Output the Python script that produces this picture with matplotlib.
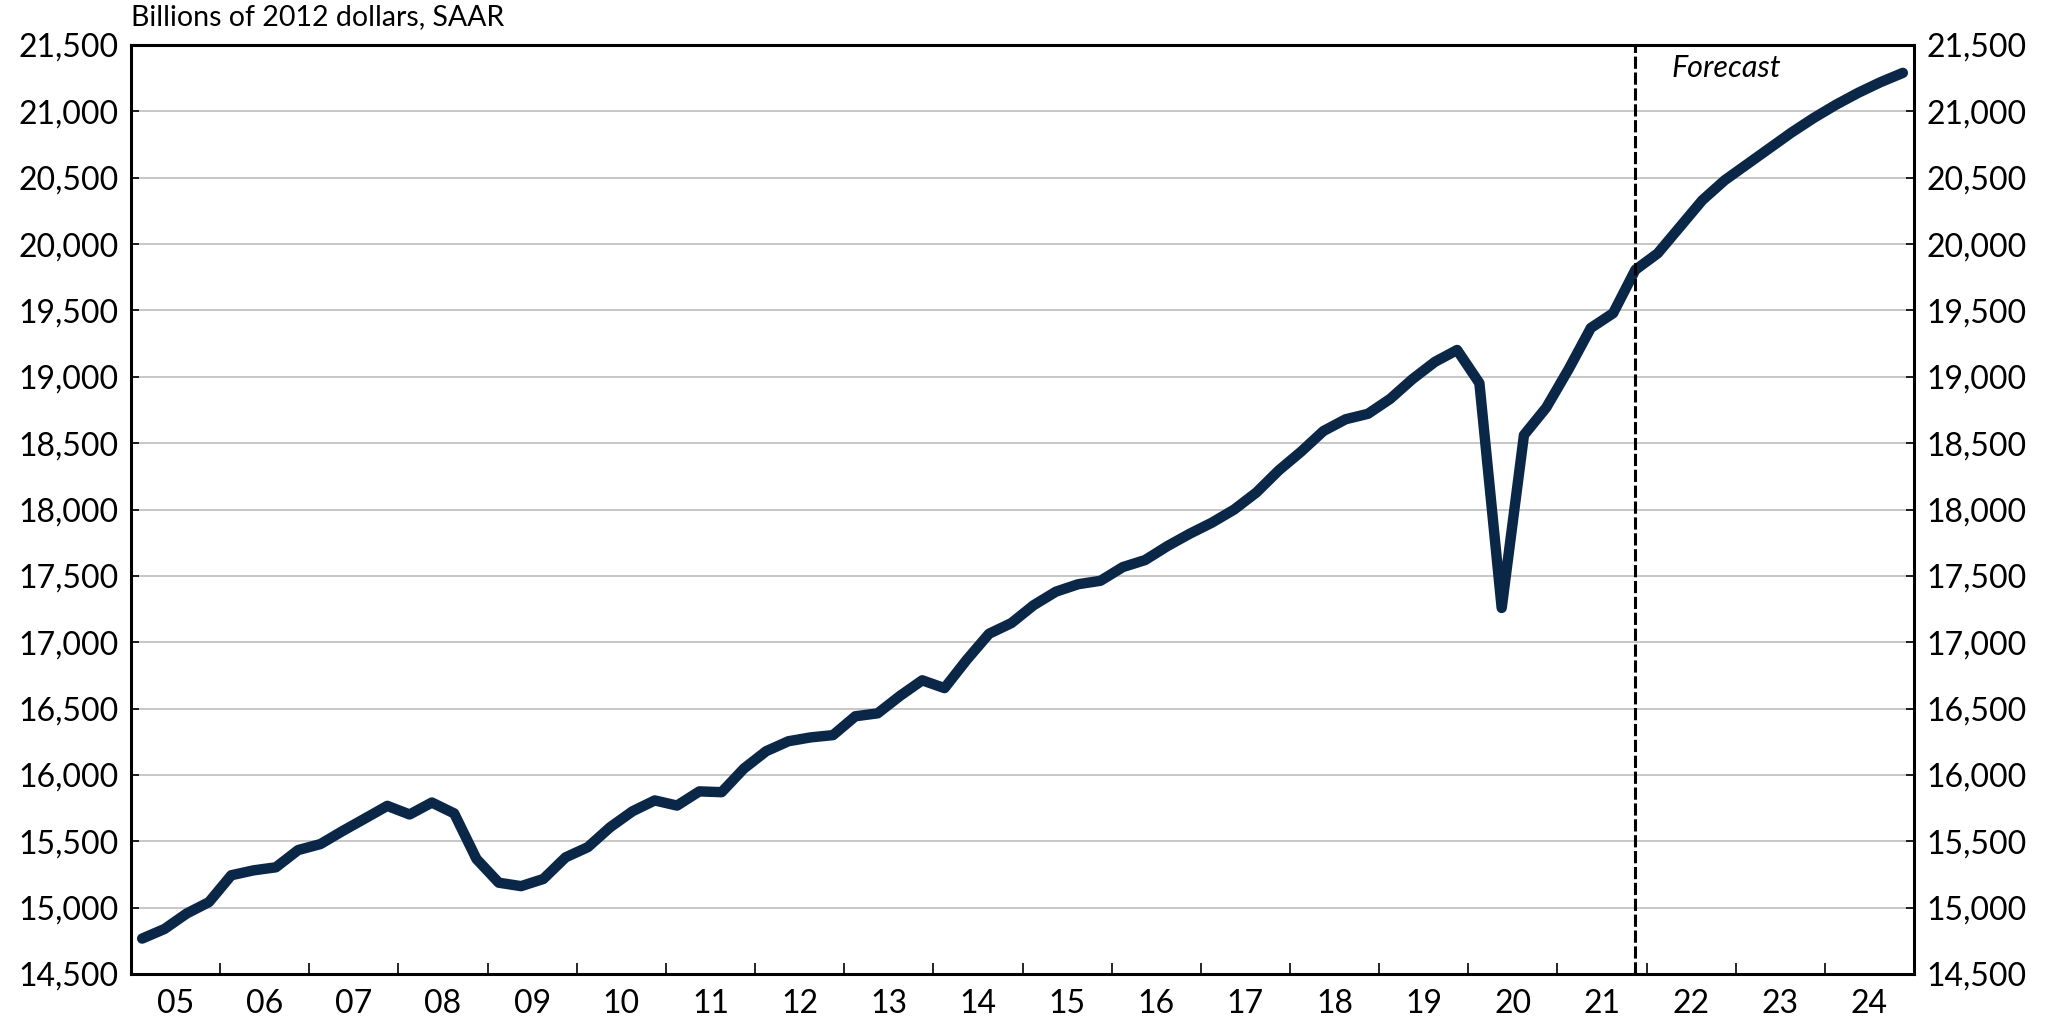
import matplotlib.pyplot as plt
import matplotlib.ticker as mticker
import numpy as np

plt.rcParams['font.family'] = ['Lato', 'DejaVu Sans']

# quarterly real GDP, 2005Q1 .. 2024Q4 (forecast from 2022Q1)
gdp = [14767, 14839, 14956, 15042,
       15244, 15281, 15304, 15434,
       15479, 15578, 15672, 15767,
       15702, 15792, 15710, 15367,
       15188, 15162, 15216, 15379,
       15456, 15606, 15726, 15808,
       15769, 15876, 15870, 16048,
       16179, 16254, 16283, 16300,
       16442, 16464, 16595, 16713,
       16654, 16868, 17064, 17144,
       17279, 17381, 17437, 17463,
       17566, 17619, 17724, 17817,
       17901, 18000, 18129, 18295,
       18436, 18591, 18680, 18721,
       18834, 18983, 19112, 19202,
       18952, 17258, 18561, 18768,
       19056, 19368, 19479, 19806,
       19930, 20130, 20330, 20480,
       20600, 20720, 20840, 20950,
       21050, 21140, 21220, 21290]
years = ['05', '06', '07', '08', '09', '10', '11', '12', '13', '14',
         '15', '16', '17', '18', '19', '20', '21', '22', '23', '24']
forecast_start = 67
y_ticks = list(range(14500, 21501, 500))

W, H = 2049, 1019
fig = plt.figure(figsize=(W / 100, H / 100), dpi=100)
ax = fig.add_axes([131 / W, 1 - 974 / H, (1914 - 131) / W, (974 - 45) / H])

x = np.arange(len(gdp))
ax.plot(x, gdp, color='#0a2747', lw=7.5, solid_capstyle='round', solid_joinstyle='round', zorder=3)
ax.axvline(forecast_start, color='black', lw=2.2, ls=(0, (4, 1.2)), zorder=4)
ax.text(68.6, 21330, 'Forecast', fontsize=22, style='italic', va='center', ha='left')

ax.set_xlim(-0.5, len(gdp) - 0.5)
ax.set_ylim(14500, 21500)
ax.set_yticks(y_ticks)
ax.yaxis.set_major_formatter(mticker.StrMethodFormatter('{x:,.0f}'))
ax.grid(axis='y', color='#b8b8b8', lw=1.1, zorder=0)

# year boundaries as ticks, labels in the middle of each year
ax.set_xticks([4 * k - 0.5 for k in range(1, len(years))])
ax.set_xticklabels([])
ax.set_xticks([4 * k + 1.5 for k in range(len(years))], minor=True)
ax.set_xticklabels(years, minor=True)
ax.tick_params(axis='x', which='major', direction='in', length=8, width=1.2)
ax.tick_params(axis='x', which='minor', length=0, pad=11, labelsize=23)
ax.tick_params(axis='y', direction='in', length=6, width=1.2, left=True, right=True,
               labelleft=True, labelright=True, labelsize=23, pad=9)

for s in ax.spines.values():
    s.set_linewidth(2.2)
    s.set_color('black')

fig.text(131 / W, 1 - 17 / H, 'Billions of 2012 dollars, SAAR', fontsize=20.5, va='center', ha='left')

fig.savefig('out.png', dpi=100, facecolor='white')
